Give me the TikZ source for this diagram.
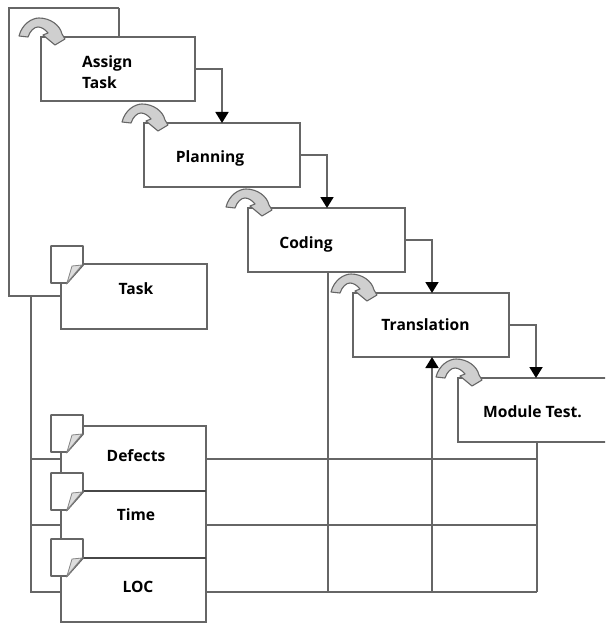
\documentclass[tikz,border=0pt]{standalone}
\usepackage{fontspec}
\setmainfont{Open Sans}
\usetikzlibrary{arrows.meta,calc}
\definecolor{ln}{HTML}{666666}
\definecolor{bandfill}{HTML}{CFCFCF}
\tikzset{
  x=1pt,y=-1pt,
  wire/.style={draw=ln,line width=1.8pt},
  flow/.style={wire,-{Triangle[length=11pt,width=13pt,color=black]}},
  box/.style={draw=ln,line width=1.9pt,fill=white,rectangle,inner sep=0pt,outer sep=0pt,anchor=north west,minimum width=#1},
  box/.default=155pt,
  sepline/.style={draw=black!72,line width=2pt},
  lab/.style={font=\fontsize{15.6}{18}\selectfont\bfseries,text=black,inner sep=0pt},
  pics/sway/.style={code={
    \draw[draw=ln,line width=1.1pt,fill=bandfill,line join=round]
      (-22,-1) .. controls (-19,-13) and (-9,-19) .. (-2,-19)
      .. controls (9,-19) and (19,-12) .. (21,-3)
      -- (24,2) -- (14,8) -- (2,-2) -- (7,-4)
      .. controls (4,-8) and (0,-10) .. (-3,-10)
      .. controls (-7,-10) and (-11,-6) .. (-13,0) -- cycle;
  }},
  pics/sheet/.style={code={
    \draw[draw=ln,line width=1.8pt,fill=white,line join=round]
      (0,0) -- (32,0) -- (32,19) -- (16,37) -- (0,37) -- cycle;
    \draw[draw=ln!80,line width=.8pt,fill=bandfill!70]
      (21,20) -- (31,19) -- (16,37) -- cycle;
  }},
}
\begin{document}
\begin{tikzpicture}
\clip (0,0) rectangle (605,623);
\fill[white] (0,0) rectangle (605,623);
% connector anchors
\coordinate (hubTop) at (119,8);
\coordinate (hubCorner) at (9,8);
\coordinate (hubLow) at (9,296);
\coordinate (busTop) at (31,296);
\coordinate (rowA) at (31,459);
\coordinate (rowB) at (31,525);
\coordinate (rowC) at (31,592);
\coordinate (gridA) at (537,459);
\coordinate (gridB) at (537,525);
\coordinate (gridC) at (537,592);
\coordinate (colA) at (328,592);
\coordinate (colB) at (432,592);
\coordinate (headA) at (222,123);
\coordinate (headB) at (327,208);
\coordinate (headC) at (432,293);
\coordinate (headD) at (536,378);
\coordinate (headE) at (432,357);
\coordinate (sepA) at (83,491);
\coordinate (sepB) at (83,557.5);
% wires behind the boxes
\draw[wire] (hubTop) -- (hubCorner) -- (hubLow) -- (61,296);
\draw[wire] (hubTop) -- (119,37);
\draw[wire] (busTop) -- (rowC) -- (61,592);
\draw[wire] (rowA) -- (61,459);
\draw[wire] (rowB) -- (61,525);
% boxes
\node[box=154pt,minimum height=64pt] (assign) at (41,37) {};
\node[box=156pt,minimum height=64pt] (planning) at (144,123) {};
\node[box=157pt,minimum height=64pt] (coding) at (248,208) {};
\node[box=156pt,minimum height=64pt] (translation) at (353,293) {};
\node[box=160pt,minimum height=64pt] (module) at (458,378) {};
\node[box=146pt,minimum height=65pt] (task) at (61,264) {};
\node[box=145pt,minimum height=65pt] (defects) at (61,426) {};
\node[box=145pt,minimum height=66.5pt] (time) at (61,491) {};
\node[box=145pt,minimum height=64.5pt] (loc) at (61,557.5) {};
% labels
\node[lab,anchor=west] (t1) at (82,63) {Assign};
\node[lab,anchor=west] (t2) at (82,83) {Task};
\node[lab] (t3) at (210,158) {Planning};
\node[lab] (t4) at (306,244) {Coding};
\node[lab] (t5) at (425.5,325) {Translation};
\node[lab] (t6) at (532.5,412) {Module Test.};
\node[lab] (t7) at (136,289) {Task};
\node[lab] (t8) at (136,456) {Defects};
\node[lab] (t9) at (136,514.5) {Time};
\node[lab] (t10) at (138,587) {LOC};
% grid
\draw[wire] (defects.east |- gridA) -- (gridA);
\draw[wire] (time.east |- gridB) -- (gridB);
\draw[wire] (loc.east |- gridC) -- (gridC);
\draw[wire] (module.south -| gridA) -- (gridC);
\draw[wire] (coding.south -| colA) -- (colA);
\draw[sepline] (sepA) -- (time.north east);
\draw[sepline] (sepB) -- (loc.north east);
\draw[flow] (colB) -- (headE);
% flow
\draw[flow] (assign.east) -| (headA);
\draw[flow] (planning.east) -| (headB);
\draw[flow] (coding.east) -| (headC);
\draw[flow] (translation.east) -| (headD);
% icons
\pic at (41,37) {sway};
\pic at (144,123) {sway};
\pic at (248,208) {sway};
\pic at (353,293) {sway};
\pic at (458,378) {sway};
\pic at (51,246) {sheet};
\pic at (51,415) {sheet};
\pic at (51,473) {sheet};
\pic at (51,539) {sheet};
\end{tikzpicture}
\end{document}
